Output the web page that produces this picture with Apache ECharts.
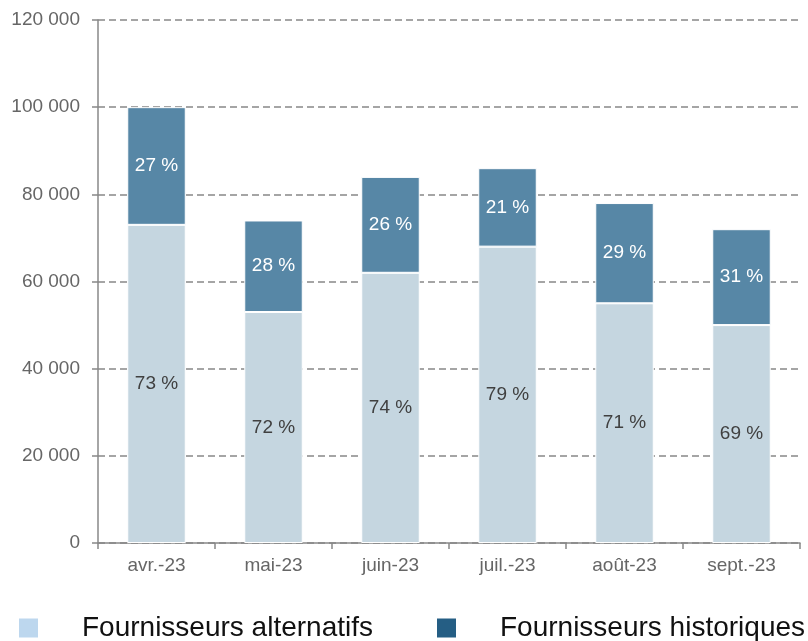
<!DOCTYPE html>
<html>
<head>
<meta charset="utf-8">
<script src="https://cdn.jsdelivr.net/npm/echarts@6/dist/echarts.min.js"></script>
<style>
  html, body { margin: 0; padding: 0; background: #fff; }
  #chart { width: 808px; height: 641px; }
</style>
</head>
<body>
<div id="chart"></div>
<script>
// months
var categories = ['avr.-23', 'mai-23', 'juin-23', 'juil.-23', 'août-23', 'sept.-23'];
// Fournisseurs alternatifs
var alternatifs = [73000, 53000, 62000, 68000, 55000, 50000];
// Fournisseurs historiques
var historiques = [27000, 21000, 22000, 18000, 23000, 22000];

var myChart = echarts.init(document.getElementById('chart'));

var pct = function (serie, i) {
    var total = alternatifs[i] + historiques[i];
    return Math.round(serie[i] / total * 100) + ' %';
};

var option = {
    textStyle: { fontFamily: 'Liberation Sans, Arial, sans-serif' },
    grid: { left: 98, right: 8, top: 20, bottom: 98 },
    legend: {
        top: 614,
        left: 17,
        width: 900,
        padding: 0,
        itemWidth: 21,
        itemHeight: 21,
        itemGap: 62,
        icon: 'rect',
        textStyle: {
            fontSize: 28,
            color: '#111',
            padding: [0, 0, 0, 38]
        },
        data: [
            { name: 'Fournisseurs alternatifs', itemStyle: { color: '#bdd7ee' } },
            { name: 'Fournisseurs historiques', itemStyle: { color: '#255e84' } }
        ]
    },
    xAxis: {
        type: 'category',
        data: categories,
        axisLine: { lineStyle: { color: '#888', width: 1.5 } },
        axisTick: { show: true, length: 6, lineStyle: { color: '#888', width: 1.5 } },
        axisLabel: { fontSize: 19, color: '#666', margin: 13 }
    },
    yAxis: {
        type: 'value',
        min: 0,
        max: 120000,
        interval: 20000,
        axisLine: { show: true, lineStyle: { color: '#888', width: 1.5 } },
        axisTick: { show: true, length: 6, lineStyle: { color: '#888', width: 1.5 } },
        axisLabel: {
            fontSize: 19,
            color: '#666',
            margin: 18,
            formatter: function (v) {
                return String(v).replace(/\B(?=(\d{3})+(?!\d))/g, ' ');
            }
        },
        splitLine: { lineStyle: { color: '#888', width: 1.5, type: [7, 4] } }
    },
    series: [
        {
            name: 'Fournisseurs alternatifs',
            type: 'bar',
            stack: 'Total',
            barWidth: '50%',
            itemStyle: { color: '#c5d6e0', borderColor: '#fff', borderWidth: 1 },
            label: {
                show: true,
                position: 'inside',
                fontSize: 19,
                color: '#404040',
                formatter: function (p) { return pct(alternatifs, p.dataIndex); }
            },
            data: alternatifs
        },
        {
            name: 'Fournisseurs historiques',
            type: 'bar',
            stack: 'Total',
            itemStyle: { color: '#5787a6', borderColor: '#fff', borderWidth: 1 },
            label: {
                show: true,
                position: 'inside',
                fontSize: 19,
                color: '#fff',
                formatter: function (p) { return pct(historiques, p.dataIndex); }
            },
            data: historiques
        }
    ]
};
option && myChart.setOption(option);
</script>
</body>
</html>
